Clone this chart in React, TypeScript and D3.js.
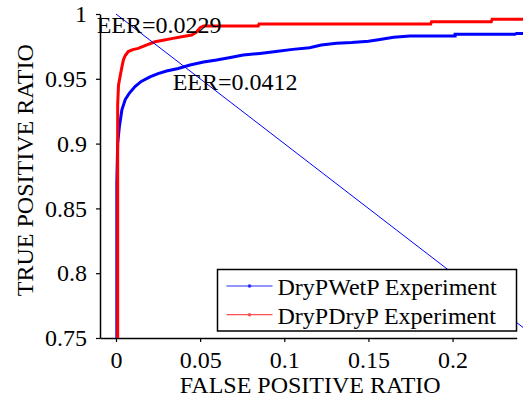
import React, { useEffect, useRef } from 'react';
import * as d3 from 'd3';

// ROC points: [false positive ratio, true positive ratio]
const wetPoints: [number, number][] = [
  [0.0005, 0.75], [0.0005, 0.87], [0.001, 0.9], [0.002, 0.913], [0.0035, 0.926],
  [0.0055, 0.934], [0.008, 0.939], [0.0113, 0.944], [0.015, 0.948], [0.0202, 0.9515],
  [0.025, 0.954], [0.03, 0.956], [0.037, 0.958], [0.044, 0.9606], [0.052, 0.963],
  [0.0598, 0.9645], [0.068, 0.9665], [0.0756, 0.9683], [0.0855, 0.9696], [0.095, 0.971],
  [0.105, 0.9727], [0.115, 0.974], [0.122, 0.976], [0.131, 0.9774], [0.14, 0.978],
  [0.15, 0.979], [0.155, 0.98], [0.165, 0.982], [0.1746, 0.983], [0.2015, 0.983],
  [0.2015, 0.9843], [0.237, 0.9843], [0.238, 0.985], [0.2425, 0.985],
];

const dryPoints: [number, number][] = [
  [0.001, 0.75], [0.001, 0.93], [0.0015, 0.945], [0.0024, 0.9515], [0.0035, 0.959],
  [0.0044, 0.9645], [0.0055, 0.968], [0.0073, 0.971], [0.01, 0.9725], [0.0132, 0.9735],
  [0.018, 0.976], [0.0232, 0.9786], [0.028, 0.9798], [0.033, 0.981], [0.039, 0.9825],
  [0.045, 0.9838], [0.048, 0.9863], [0.05, 0.9895], [0.052, 0.9907], [0.0845, 0.9907],
  [0.085, 0.9923], [0.187, 0.9923], [0.1875, 0.994], [0.223, 0.994], [0.2235, 0.9959],
  [0.2425, 0.9959],
];

const eerLine: [number, number][] = [[0, 1], [0.2425, 0.7575]];

const xTicks = [0, 0.05, 0.1, 0.15, 0.2];
const yTicks = [0.75, 0.8, 0.85, 0.9, 0.95, 1];

const seriesNames = ['DryPWetP Experiment', 'DryPDryP Experiment'];
const eerLabels = ['EER=0.0412', 'EER=0.0229'];

const App: React.FC = () => {
  const svgRef = useRef<SVGSVGElement>(null);

  useEffect(() => {
    if (!svgRef.current) return;

    const width = 523;
    const height = 400;
    const margin = { top: 14, right: 6.3, bottom: 62, left: 100 };
    const font = 'Liberation Serif, Times New Roman, Times, serif';
    const fontSize = 24;

    const svg = d3.select(svgRef.current)
      .attr('width', width)
      .attr('height', height)
      .style('font-family', font);

    svg.selectAll('*').remove();

    const x = d3.scaleLinear()
      .domain([-0.0095, 0.2381])
      .range([margin.left, width - margin.right]);

    const y = d3.scaleLinear()
      .domain([0.75, 1])
      .range([height - margin.bottom, margin.top]);

    const fmt = (d: d3.NumberValue) => String(+(+d).toFixed(2));

    // axes
    const xAxis = svg.append('g')
      .attr('transform', `translate(0,${height - margin.bottom})`)
      .call(d3.axisBottom(x).tickValues(xTicks).tickFormat(fmt).tickSize(4).tickSizeOuter(0).tickPadding(9));

    const yAxis = svg.append('g')
      .attr('transform', `translate(${margin.left},0)`)
      .call(d3.axisLeft(y).tickValues(yTicks).tickFormat(fmt).tickSize(4).tickSizeOuter(0).tickPadding(9));

    [xAxis, yAxis].forEach(g => {
      g.attr('font-family', null).attr('font-size', null);
      g.selectAll('text').style('font-family', font).style('font-size', `${fontSize}px`).attr('fill', '#000');
      g.selectAll('line').attr('stroke', '#000').attr('stroke-width', 1.2);
      g.select('.domain').attr('stroke', '#000').attr('stroke-width', 1.5);
    });

    // curves
    const line = d3.line<[number, number]>()
      .x(d => x(d[0]))
      .y(d => y(d[1]));

    svg.append('path')
      .datum(wetPoints)
      .attr('fill', 'none')
      .attr('stroke', '#0000ff')
      .attr('stroke-width', 3)
      .attr('d', line);

    svg.append('path')
      .datum(dryPoints)
      .attr('fill', 'none')
      .attr('stroke', '#ff0000')
      .attr('stroke-width', 3)
      .attr('d', line);

    svg.append('path')
      .datum(eerLine)
      .attr('fill', 'none')
      .attr('stroke', '#0000ff')
      .attr('stroke-width', 1)
      .attr('d', line);

    const addText = (sel: d3.Selection<any, unknown, null, undefined>, size: number) =>
      sel.append('text').style('font-family', font).style('font-size', `${size}px`).attr('fill', '#000');

    // EER annotations
    addText(svg, fontSize)
      .attr('x', x(-0.0115))
      .attr('y', 33)
      .text(eerLabels[1]);

    addText(svg, fontSize)
      .attr('x', x(0.0337))
      .attr('y', 90)
      .text(eerLabels[0]);

    // axis titles
    addText(svg, fontSize)
      .attr('x', x(0.1154))
      .attr('y', 393)
      .attr('text-anchor', 'middle')
      .text('FALSE POSITIVE RATIO');

    addText(svg, fontSize)
      .attr('transform', `translate(33,${y(0.8795)}) rotate(-90)`)
      .attr('text-anchor', 'middle')
      .text('TRUE POSITIVE RATIO');

    // legend
    const legend = svg.append('g').attr('transform', 'translate(217.5,269.5)');
    legend.append('rect')
      .attr('width', 299)
      .attr('height', 61.5)
      .attr('fill', '#fff')
      .attr('stroke', '#000')
      .attr('stroke-width', 1.5);

    const colors = ['#2a2aff', '#ff5050'];
    seriesNames.forEach((name, i) => {
      const cy = 16.5 + i * 28.7;
      legend.append('line')
        .attr('x1', 9).attr('x2', 55)
        .attr('y1', cy).attr('y2', cy)
        .attr('stroke', colors[i])
        .attr('stroke-width', 1.2);
      legend.append('circle')
        .attr('cx', 32).attr('cy', cy).attr('r', 1.8)
        .attr('fill', colors[i]);
      addText(legend, fontSize)
        .attr('x', 60)
        .attr('y', cy + 9)
        .text(name);
    });
  }, []);

  return (
    <svg ref={svgRef} style={{ position: 'absolute', left: 0, top: 0 }}></svg>
  );
};

export default App;
